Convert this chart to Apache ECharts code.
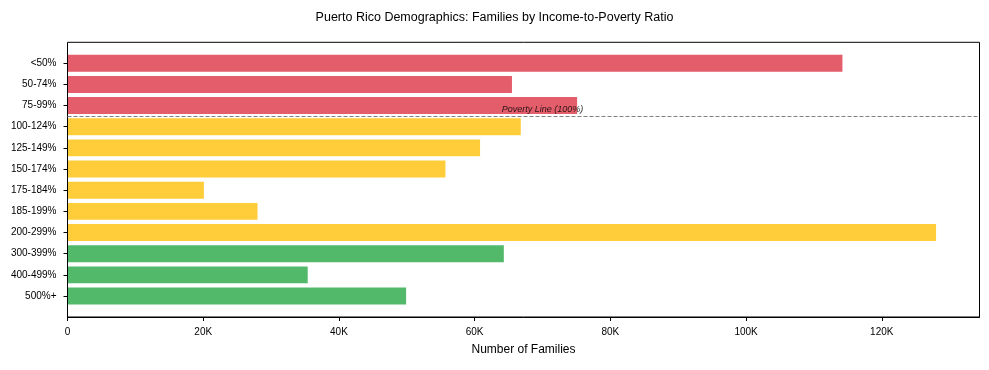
<!DOCTYPE html>
<html>
<head>
<meta charset="utf-8">
<script src="https://cdn.jsdelivr.net/npm/echarts@6/dist/echarts.min.js"></script>
<style>
html,body{margin:0;padding:0;background:#fff;}
#chart{width:989px;height:370px;}
</style>
</head>
<body>
<div id="chart"></div>
<script>
// ---- data ----
const categories = ['<50%', '50-74%', '75-99%', '100-124%', '125-149%', '150-174%', '175-184%', '185-199%', '200-299%', '300-399%', '400-499%', '500%+'];
const families = [114200, 65500, 75100, 66800, 60800, 55700, 20100, 28000, 128000, 64300, 35400, 49900];
const groups = ['below', 'below', 'below', 'near', 'near', 'near', 'near', 'near', 'near', 'above', 'above', 'above'];
const xTicks = [0, 20000, 40000, 60000, 80000, 100000, 120000];
const povertyLinePosition = 2.5;      // between 75-99% and 100-124%
const povertyLabelX = 64000;
const povertyLabel = 'Poverty Line (100%)';
const titleText = 'Puerto Rico Demographics: Families by Income-to-Poverty Ratio';
const xAxisName = 'Number of Families';

// ---- styling ----
const groupColors = { below: '#e35d6a', near: '#ffcd39', above: '#53b96a' };
const FONT = "'Liberation Sans', Arial, sans-serif";
const xMax = Math.max(...families) * 1.05;
const n = categories.length;
const margin = 0.4 + (n - 1 + 0.8) * 0.05;   // value-axis padding matching band layout

const frame = { left: 67.5, right: 9.5, top: 42.3, bottom: 53 };
const plotH = 370 - frame.top - frame.bottom;
const unit = plotH / (n - 1 + 2 * margin);
const barGrid = {
  left: frame.left, right: frame.right,
  top: frame.top + (margin - 0.5) * unit,
  bottom: frame.bottom + (margin - 0.5) * unit
};

const fmtK = v => v === 0 ? '0' : (v / 1000) + 'K';

const chart = echarts.init(document.getElementById('chart'), null, { renderer: 'canvas' });
chart.setOption({
  animation: false,
  backgroundColor: '#fff',
  textStyle: { fontFamily: FONT },
  title: {
    text: titleText, left: 'center', top: 11, padding: 0,
    textStyle: { fontFamily: FONT, fontSize: 12.5, fontWeight: 'normal', color: '#000' }
  },
  grid: [
    { left: frame.left, right: frame.right, top: frame.top, bottom: frame.bottom, show: true,
      borderColor: '#000', borderWidth: 1, backgroundColor: 'transparent', z: 5 },
    barGrid
  ],
  xAxis: [
    { type: 'value', gridIndex: 0, min: 0, max: xMax, position: 'bottom',
      name: xAxisName, nameLocation: 'middle', nameGap: 27,
      nameTextStyle: { fontFamily: FONT, fontSize: 12, color: '#000' },
      axisLine: { show: true, onZero: false, lineStyle: { color: '#000', width: 1 } },
      axisTick: { show: true, length: 4, lineStyle: { color: '#000', width: 1 }, customValues: xTicks },
      axisLabel: { fontFamily: FONT, fontSize: 10, color: '#000', margin: 10, customValues: xTicks, formatter: fmtK },
      splitLine: { show: false } },
    { type: 'value', gridIndex: 1, min: 0, max: xMax, show: false, splitLine: { show: false } }
  ],
  yAxis: [
    { type: 'value', gridIndex: 0, inverse: true, min: -margin, max: n - 1 + margin, show: false, splitLine: { show: false } },
    { type: 'category', gridIndex: 1, inverse: true, data: categories,
      axisLine: { show: false },
      axisTick: { show: true, length: 4, alignWithLabel: true, lineStyle: { color: '#000' } },
      axisLabel: { fontFamily: FONT, fontSize: 10, color: '#000', margin: 11 },
      splitLine: { show: false } }
  ],
  series: [
    { type: 'bar', xAxisIndex: 1, yAxisIndex: 1, barCategoryGap: '20%',
      data: families.map((v, i) => ({ value: v, itemStyle: { color: groupColors[groups[i]] } })),
      z: 2 },
    { type: 'scatter', xAxisIndex: 0, yAxisIndex: 0, silent: true, symbolSize: 0,
      data: [[povertyLabelX, povertyLinePosition]],
      label: { show: true, formatter: povertyLabel, position: [0, 0], align: 'left', verticalAlign: 'bottom',
        offset: [0, -2], fontFamily: FONT, fontSize: 9, fontStyle: 'italic', color: '#000' },
      markLine: {
        silent: true, symbol: ['none', 'none'],
        lineStyle: { color: '#808080', type: [4, 2], width: 1 },
        label: { show: false },
        data: [{ yAxis: povertyLinePosition }]
      },
      z: 4 }
  ]
});
</script>
</body>
</html>
